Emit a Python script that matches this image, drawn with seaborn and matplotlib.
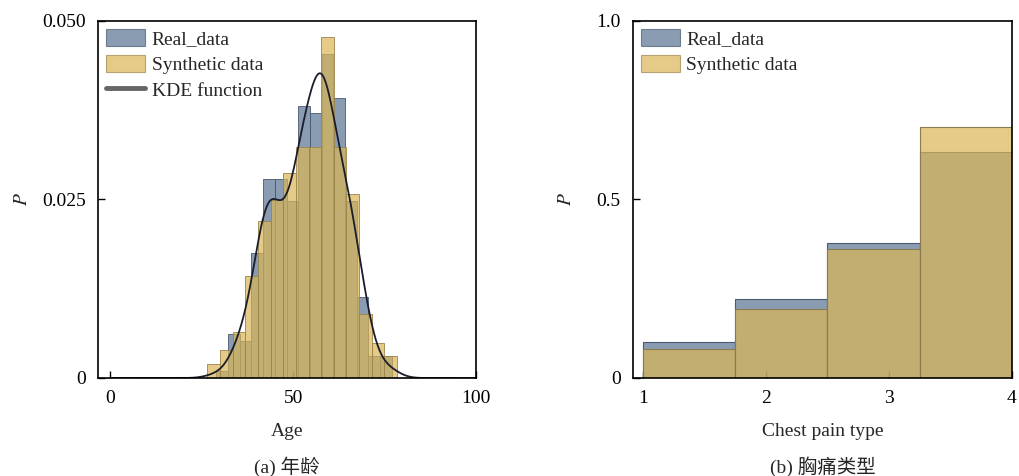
import numpy as np
import pandas as pd
import matplotlib
matplotlib.use("Agg")
import matplotlib.pyplot as plt
from matplotlib.patches import Patch
from matplotlib.lines import Line2D
import seaborn as sns

# ---- Age: real records (age value -> number of patients) ----
real_ages = [29, 34, 35, 37, 38, 39, 40, 41, 42, 43, 44, 45, 46, 47, 48, 49, 50,
             51, 52, 53, 54, 55, 56, 57, 58, 59, 60, 61, 62, 63, 64, 65, 66, 67,
             68, 69, 70, 71, 74, 76, 77]
real_age_counts = [1, 2, 4, 2, 3, 4, 3, 10, 8, 8, 11, 8, 7, 5, 7, 5, 7,
                   12, 13, 8, 16, 8, 11, 17, 19, 14, 11, 8, 11, 9, 10, 8, 7, 9,
                   4, 3, 4, 3, 1, 1, 1]
real_age_range = (29, 77)

# ---- Age: synthetic data, density per bin ----
synth_age_range = (26.6, 78.4)
synth_age_density = [0.0019, 0.0039, 0.0065, 0.0143, 0.0220, 0.0249, 0.0287,
                     0.0324, 0.0324, 0.0477, 0.0324, 0.0257, 0.0090, 0.0049,
                     0.0031]

# ---- Chest pain type ----
cp_types = [1, 2, 3, 4]
real_cp_density = [0.101, 0.220, 0.378, 0.634]
synth_cp_density = [0.080, 0.192, 0.360, 0.704]

REAL_C = "#597291"
SYN_C = "#dab655"
ALPHA = 0.7

sns.set_theme(style="ticks")
plt.rcParams["font.family"] = ["Liberation Serif", "Noto Sans CJK SC"]
plt.rcParams["mathtext.fontset"] = "stix"
FS = 14
plt.rcParams.update({
    "font.size": FS,
    "axes.linewidth": 1.2,
    "axes.edgecolor": "black",
    "xtick.direction": "in",
    "ytick.direction": "in",
    "xtick.major.size": 5,
    "ytick.major.size": 5,
    "xtick.major.width": 1.0,
    "ytick.major.width": 1.0,
    "xtick.color": "black",
    "ytick.color": "black",
    "xtick.labelsize": FS,
    "ytick.labelsize": FS,
})

fig = plt.figure(figsize=(10.19, 4.76), dpi=100)
ax1 = fig.add_axes([0.0962, 0.2059, 0.3710, 0.75])
ax2 = fig.add_axes([0.6212, 0.2059, 0.3719, 0.75])

# ---------------- (a) Age ----------------
# one row per patient, so the KDE bandwidth follows the full sample size
age_samples = pd.DataFrame({"age": np.repeat(real_ages, real_age_counts)})
sns.histplot(data=age_samples, x="age", bins=15, binrange=real_age_range,
             stat="density", color=REAL_C, alpha=ALPHA, edgecolor="#4a5a70",
             linewidth=0.6, ax=ax1)

n_syn = len(synth_age_density)
syn_edges = np.linspace(synth_age_range[0], synth_age_range[1], n_syn + 1)
syn_df = pd.DataFrame({"age": (syn_edges[:-1] + syn_edges[1:]) / 2,
                       "d": synth_age_density})
sns.histplot(data=syn_df, x="age", weights="d", bins=n_syn,
             binrange=synth_age_range, stat="count", color=SYN_C, alpha=ALPHA,
             edgecolor="#9a844a", linewidth=0.6, ax=ax1)

sns.kdeplot(data=age_samples, x="age", cut=30, clip=(0, 100),
            gridsize=500, color="#1b1d2a", linewidth=1.3, ax=ax1)

ax1.set_xlim(-3.3, 100)
ax1.set_ylim(0, 0.05)
ax1.set_xticks([0, 50, 100])
ax1.set_yticks([0, 0.025, 0.05])
ax1.set_yticklabels(["0", "0.025", "0.050"])
ax1.set_xlabel("Age", fontsize=FS)
ax1.set_ylabel("$P$", fontsize=FS, va="center")
ax1.xaxis.set_label_coords(0.5, -0.151)
ax1.xaxis.label.set_va("center")
ax1.yaxis.set_label_coords(-0.20, 0.5)
ax1.text(0.5, -0.248, "(a) 年龄", transform=ax1.transAxes, ha="center",
         va="center", fontsize=FS)

handles1 = [
    Patch(facecolor=REAL_C, alpha=ALPHA, edgecolor="#4a5a70", linewidth=0.8),
    Patch(facecolor=SYN_C, alpha=ALPHA, edgecolor="#9a844a", linewidth=0.8),
    Line2D([0], [0], color="#666666", linewidth=3.5),
]
ax1.legend(handles1, ["Real_data", "Synthetic data", "KDE function"],
           loc="upper left", bbox_to_anchor=(0.0, 1.0), frameon=False,
           fontsize=FS, handlelength=2.0, handleheight=1.0, labelspacing=0.33,
           handletextpad=0.35, borderaxespad=0.2, borderpad=0.2)

# ---------------- (b) Chest pain type ----------------
cp_df = pd.DataFrame({"cp": cp_types, "real": real_cp_density,
                      "synth": synth_cp_density})
sns.histplot(data=cp_df, x="cp", weights="real", bins=4, binrange=(1, 4),
             stat="count", color=REAL_C, alpha=ALPHA, edgecolor="#4a5a70",
             linewidth=0.8, ax=ax2)
sns.histplot(data=cp_df, x="cp", weights="synth", bins=4, binrange=(1, 4),
             stat="count", color=SYN_C, alpha=ALPHA, edgecolor="#8a7a50",
             linewidth=0.8, ax=ax2)

ax2.set_xlim(0.92, 4.0)
ax2.set_ylim(0, 1.0)
ax2.set_xticks([1, 2, 3, 4])
ax2.set_yticks([0, 0.5, 1.0])
ax2.set_yticklabels(["0", "0.5", "1.0"])
ax2.set_xlabel("Chest pain type", fontsize=FS)
ax2.set_ylabel("$P$", fontsize=FS, va="center")
ax2.xaxis.set_label_coords(0.5, -0.151)
ax2.xaxis.label.set_va("center")
ax2.yaxis.set_label_coords(-0.175, 0.5)
ax2.text(0.5, -0.248, "(b) 胸痛类型", transform=ax2.transAxes, ha="center",
         va="center", fontsize=FS)

handles2 = handles1[:2]
ax2.legend(handles2, ["Real_data", "Synthetic data"],
           loc="upper left", bbox_to_anchor=(0.0, 1.0), frameon=False,
           fontsize=FS, handlelength=2.0, handleheight=1.0, labelspacing=0.33,
           handletextpad=0.35, borderaxespad=0.2, borderpad=0.2)

for ax in (ax1, ax2):
    for side in ("top", "right", "left", "bottom"):
        ax.spines[side].set_visible(True)
        ax.spines[side].set_color("black")
    ax.tick_params(axis="both", which="both", top=False, right=False, pad=9)

fig.savefig("out.png", dpi=100, facecolor="white")
